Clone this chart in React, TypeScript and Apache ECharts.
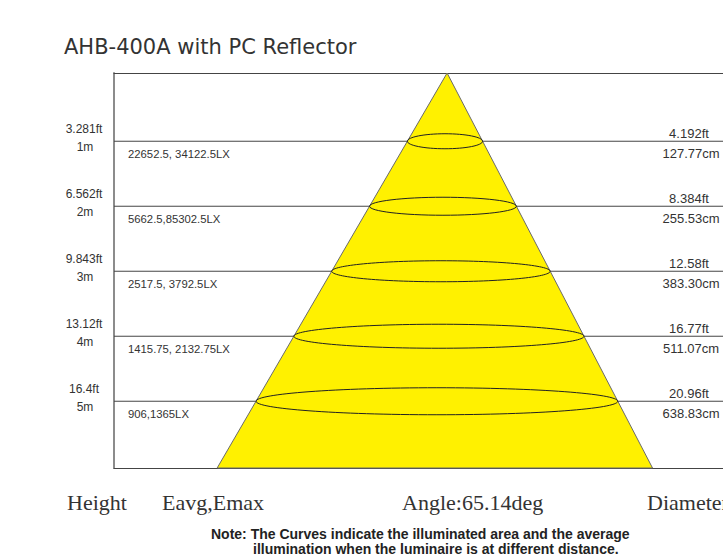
import React, { useEffect, useRef } from "react";
import * as echarts from "echarts";

const titleText = "AHB-400A with PC Reflector";
const heightsM = [1, 2, 3, 4, 5];
const heightFtLabels = ["3.281ft", "6.562ft", "9.843ft", "13.12ft", "16.4ft"];
const heightMLabels = ["1m", "2m", "3m", "4m", "5m"];
const illuminanceLabels = [
  "22652.5, 34122.5LX",
  "5662.5,85302.5LX",
  "2517.5, 3792.5LX",
  "1415.75, 2132.75LX",
  "906,1365LX",
];
const diameterFtLabels = ["4.192ft", "8.384ft", "12.58ft", "16.77ft", "20.96ft"];
const diameterCm = [127.77, 255.53, 383.3, 511.07, 638.83];
const beamAngleDeg = 65.14;
const bottomHeaders = ["Height", "Eavg,Emax", `Angle:${beamAngleDeg}deg`, "Diameter"];
const noteLines = [
  "Note: The Curves indicate the illuminated area and the average",
  "illumination when the luminaire is at different distance.",
];

// axis extents (meters)
const X_MIN = -5.94;
const X_MAX = 4.92;
const Y_MIN = -0.05;
const Y_MAX = 6.027;
// slight drawing skew of the beam axis (horizontal meters per meter of height)
const TILT = -0.036;

const TAN = Math.tan(((beamAngleDeg / 2) * Math.PI) / 180);

const SANS = "'Liberation Sans', Arial, sans-serif";
const SERIF = "'Liberation Serif', 'Times New Roman', serif";
const TXT = "#333";

export default function App() {
  const ref = useRef<HTMLDivElement>(null);
  useEffect(() => {
    document.body.style.margin = "0";
    const chart = echarts.init(ref.current!, null, { renderer: "svg" });

    const levelData = heightsM.map((h, i) => [0, h, i]);
    const axisX = (h: number) => TILT * (h - Y_MIN);

    const option: any = {
      animation: false,
      backgroundColor: "#fff",
      title: {
        text: titleText,
        left: 59,
        top: 31,
        textStyle: { fontSize: 21, fontWeight: "normal", color: TXT, fontFamily: "'DejaVu Sans', sans-serif" },
      },
      grid: { left: 114, right: 0, top: 73, bottom: 92 },
      xAxis: [
        {
          type: "value",
          min: X_MIN,
          max: X_MAX,
          position: "bottom",
          axisLine: { show: true, onZero: false, lineStyle: { color: "#444", width: 1.2 } },
          axisTick: { show: false },
          axisLabel: { show: false },
          splitLine: { show: false },
        },
        {
          type: "value",
          min: X_MIN,
          max: X_MAX,
          position: "top",
          axisLine: { show: true, onZero: false, lineStyle: { color: "#444", width: 1.2 } },
          axisTick: { show: false },
          axisLabel: { show: false },
          splitLine: { show: false },
        },
      ],
      yAxis: {
        type: "value",
        inverse: true,
        min: Y_MIN,
        max: Y_MAX,
        axisLine: { show: true, onZero: false, lineStyle: { color: "#8c8c8c", width: 2 } },
        axisTick: { show: false },
        axisLabel: { show: false },
        splitLine: { show: false },
      },
      graphic: [
        ...bottomHeaders.map((t, i) => ({
          type: "text",
          left: [67, 162, 402, 647][i],
          top: 491,
          style: { text: t, fill: TXT, font: `22px ${SERIF}` },
        })),
        ...noteLines.map((t, i) => ({
          type: "text",
          left: [211, 253][i],
          top: [527, 542][i],
          style: {
            text: t,
            fill: "#222",
            font: `bold 14px 'Liberation Sans Narrow', 'Arial Narrow', ${SANS}`,
          },
        })),
      ],
      series: [
        {
          type: "custom",
          name: "levels",
          z: 1,
          data: levelData,
          encode: { x: 0, y: 1 },
          renderItem: (params: any, api: any) => {
            const h = api.value(1);
            const i = api.value(2);
            const l = api.coord([X_MIN, h]);
            const r = api.coord([X_MAX, h]);
            const y = l[1];
            const font = (s: number) => `${s}px ${SANS}`;
            return {
              type: "group",
              children: [
                {
                  type: "line",
                  shape: { x1: l[0], y1: y, x2: r[0], y2: y },
                  style: { stroke: "#444", lineWidth: 1 },
                },
                {
                  type: "text",
                  style: { text: heightFtLabels[i], x: l[0] - 30, y: y - 12, align: "center", verticalAlign: "middle", fill: TXT, font: font(12) },
                },
                {
                  type: "text",
                  style: { text: heightMLabels[i], x: l[0] - 29, y: y + 6, align: "center", verticalAlign: "middle", fill: TXT, font: font(12) },
                },
                {
                  type: "text",
                  style: { text: illuminanceLabels[i], x: l[0] + 14, y: y + 13, align: "left", verticalAlign: "middle", fill: TXT, font: font(11.3) },
                },
                {
                  type: "text",
                  style: { text: diameterFtLabels[i], x: r[0] - 34, y: y - 8, align: "center", verticalAlign: "middle", fill: TXT, font: font(13) },
                },
                {
                  type: "text",
                  style: { text: diameterCm[i].toFixed(2) + "cm", x: r[0] - 32, y: y + 12, align: "center", verticalAlign: "middle", fill: TXT, font: font(13) },
                },
              ],
            };
          },
        },
        {
          type: "custom",
          name: "cone",
          z: 2,
          data: [[0, Y_MAX]],
          encode: { x: 0, y: 1 },
          renderItem: (params: any, api: any) => {
            const hw = (Y_MAX - Y_MIN) * TAN;
            const c = axisX(Y_MAX);
            const apex = api.coord([axisX(Y_MIN), Y_MIN]);
            const bl = api.coord([c - hw, Y_MAX]);
            const br = api.coord([c + hw, Y_MAX]);
            return {
              type: "polygon",
              shape: { points: [apex, br, bl] },
              style: { fill: "#fff100", stroke: "#6a6a6a", lineWidth: 1 },
            };
          },
        },
        {
          type: "custom",
          name: "ellipses",
          z: 3,
          data: levelData,
          encode: { x: 0, y: 1 },
          renderItem: (params: any, api: any) => {
            const h = api.value(1);
            const c = api.coord([axisX(h), h]);
            const rx = api.size([(h - Y_MIN) * TAN, 0])[0];
            const ry = 6 + 1.5 * h;
            return {
              type: "ellipse",
              shape: { cx: c[0], cy: c[1], rx, ry },
              style: { fill: "none", stroke: "#222", lineWidth: 1 },
            };
          },
        },
      ],
    };
    chart.setOption(option);
    return () => chart.dispose();
  }, []);
  return <div ref={ref} style={{ width: 723, height: 560 }} />;
}
